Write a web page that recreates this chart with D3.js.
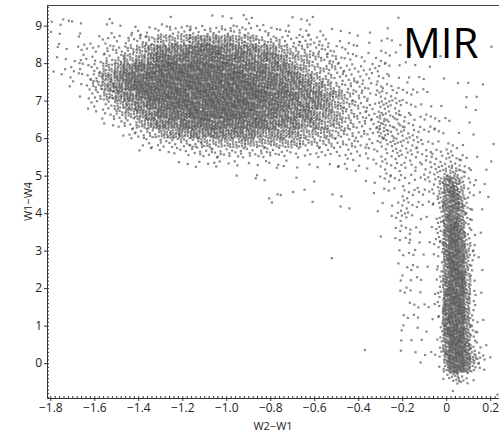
<!DOCTYPE html>
<html>
<head>
<meta charset="utf-8">
<script src="https://cdn.jsdelivr.net/npm/d3@7"></script>
<style>
  body { margin: 0; background: #fff; }
</style>
</head>
<body>
<div id="chart"></div>
<script>
// tick labels
const xTicks = [-1.8, -1.6, -1.4, -1.2, -1.0, -0.8, -0.6, -0.4, -0.2, 0, 0.2];
const yTicks = [0, 1, 2, 3, 4, 5, 6, 7, 8, 9];

// point density: one digit (0-9) per cell, top row first.
// wide part: x from -1.815 by 0.05 (30 cells), y from 9.5 down to 3.5 by 0.25
const blobGrid = { x0: -1.815, dx: 0.05, y0: 9.5, dy: 0.25 };
const blobRows = [
  '000000000000000101000000000000',
  '121102000011000110210012100000',
  '110101112223333333222212111101',
  '111112233455566665544333221111',
  '111223345677788877766544332211',
  '111223456788888888777655433221',
  '112235678899999988887765443322',
  '012246788999999999888776543322',
  '001246789999999999988877654332',
  '001135678999999999998887765432',
  '000123567889999999988877765433',
  '000012456788899999888777665433',
  '000001235677888888887776655432',
  '000000123456677777766665554332',
  '000000011233445555555554443322',
  '000000001112233333333322222222',
  '000000000001111212121211111212',
  '000000000000010101011010101111',
  '000000000000000000110010100011',
  '000000000000000000000011000001',
  '000000000000000000002100111000',
  '000000000000000000000000001100',
  '000000000000000000000000000000',
  '000000000000000000000000000000'
];
// narrow part around the vertical strip: x from -0.315 by 0.025 (22 cells), y from 9.5 down to -1 by 0.25
const stripGrid = { x0: -0.315, dx: 0.025, y0: 9.5, dy: 0.25 };
const stripRows = [
  '0000000000000000000000',
  '0001000000000000000000',
  '0100000000000000000000',
  '1110000000000000000000',
  '1101100000000000000010',
  '1110011000010000000000',
  '2110101001000000000000',
  '2211010110001000000000',
  '2221111010000010100100',
  '3222111101000000101000',
  '3332211111010000100000',
  '4333221111101000010000',
  '4433322111110100100000',
  '4433322211111010010000',
  '3333322221111101000001',
  '2222322222222211001000',
  '1212122222222332100010',
  '1211212122234443210100',
  '1121121112246764210100',
  '0111211211247875211000',
  '0101221111147885310010',
  '1011221110137886310100',
  '0011221011137886310000',
  '0001211101137997310000',
  '1001121100137997411000',
  '0000111101137998420000',
  '0000111010127998521000',
  '0001011101027998520000',
  '0000101100127999520100',
  '0000111010127999520000',
  '0000111100138999621000',
  '0000011010128999620000',
  '0000101101028999620000',
  '0000110100128999621100',
  '0000100101028999631000',
  '0000101010127999731000',
  '0000100101027999742100',
  '0000000110116999853210',
  '0000000000015899742100',
  '0000000000002453210000',
  '0000000000000110100000',
  '0000000000000000000001'
];
// points per cell for each density digit
const blobCount = [0, 1, 3, 5, 8, 13, 19, 26, 33, 40];
const stripCount = [0, 1, 2, 3, 5, 7, 10, 13, 17, 21];
// lone points
const strays = [[-0.52, 2.8], [-0.37, 0.35]];

const width = 499;
const height = 438;
const margin = { top: 5, right: 0, bottom: 40, left: 47 };

const x = d3.scaleLinear()
  .domain([-1.815, 0.24])
  .range([margin.left, width - margin.right]);

const y = d3.scaleLinear()
  .domain([-0.93, 9.55])
  .range([height - margin.bottom, margin.top]);

// spread the points of each cell over it (R2 low discrepancy order)
const A1 = 0.7548776662, A2 = 0.5698402910;
function cellPoints(rows, counts, grid, g) {
  const out = [];
  rows.forEach((row, r) => {
    row.split('').forEach((ch, c) => {
      const n = counts[+ch];
      const s = (r * 37 + c * 61 + g * 13) % 101;
      for (let i = 0; i < n; i++) {
        const u = (0.5 + A1 * (s + i)) % 1;
        const v = (0.5 + A2 * (s + i)) % 1;
        out.push([grid.x0 + (c + u) * grid.dx, grid.y0 - (r + v) * grid.dy]);
      }
    });
  });
  return out;
}

const points = cellPoints(blobRows, blobCount, blobGrid, 0)
  .concat(cellPoints(stripRows, stripCount, stripGrid, 1))
  .concat(strays);

const svg = d3.select('#chart')
  .append('svg')
  .attr('width', width)
  .attr('height', height);

svg.append('clipPath')
  .attr('id', 'plot-clip')
  .append('rect')
  .attr('x', x.range()[0])
  .attr('y', y.range()[1])
  .attr('width', x.range()[1] - x.range()[0])
  .attr('height', y.range()[0] - y.range()[1]);

svg.append('g')
  .attr('clip-path', 'url(#plot-clip)')
  .selectAll('rect')
  .data(points)
  .enter()
  .append('rect')
  .attr('x', d => x(d[0]) - 1.1)
  .attr('y', d => y(d[1]) - 1.1)
  .attr('width', 2.2)
  .attr('height', 2.2)
  .attr('fill', '#555')
  .attr('fill-opacity', 0.7);

const fmtX = d => d === 0 ? '0' : d3.format('.1f')(d);
const fmtY = d3.format('d');
const fontFamily = '"Open Sans", "Liberation Sans", sans-serif';

// bottom axis
const xAxis = svg.append('g')
  .attr('transform', `translate(0,${y.range()[0]})`)
  .attr('color', '#333')
  .call(d3.axisBottom(x).tickValues(xTicks).tickSize(3).tickPadding(2).tickSizeOuter(0).tickFormat(fmtX));
xAxis.selectAll('text')
  .attr('font-size', 12)
  .attr('font-family', fontFamily)
  .attr('fill', '#222');

svg.append('g')
  .attr('transform', `translate(0,${y.range()[0]})`)
  .attr('color', '#333')
  .call(d3.axisTop(x).tickValues(x.ticks(100)).tickSize(2).tickSizeOuter(0).tickFormat(''))
  .select('.domain').remove();

// left axis
const yAxis = svg.append('g')
  .attr('transform', `translate(${x.range()[0]},0)`)
  .attr('color', '#333')
  .call(d3.axisLeft(y).tickValues(yTicks).tickSize(3).tickPadding(2).tickSizeOuter(0).tickFormat(fmtY));
yAxis.selectAll('text')
  .attr('font-size', 12)
  .attr('font-family', fontFamily)
  .attr('fill', '#222');

svg.append('g')
  .attr('transform', `translate(${x.range()[0]},0)`)
  .attr('color', '#333')
  .call(d3.axisRight(y).tickValues(y.ticks(100)).tickSize(2).tickSizeOuter(0).tickFormat(''))
  .select('.domain').remove();

// top frame line
svg.append('line')
  .attr('x1', x.range()[0])
  .attr('x2', x.range()[1])
  .attr('y1', y.range()[1] + 0.5)
  .attr('y2', y.range()[1] + 0.5)
  .attr('stroke', '#444')
  .attr('stroke-width', 1.2);

// axis titles
svg.append('text')
  .attr('x', (x.range()[0] + x.range()[1]) / 2)
  .attr('y', 430)
  .attr('text-anchor', 'middle')
  .attr('font-size', 11)
  .attr('font-family', fontFamily)
  .attr('fill', '#222')
  .text('W2\u2212W1');

svg.append('text')
  .attr('transform', `translate(32,${(y.range()[0] + y.range()[1]) / 2}) rotate(-90)`)
  .attr('text-anchor', 'middle')
  .attr('font-size', 11)
  .attr('font-family', fontFamily)
  .attr('fill', '#222')
  .text('W1\u2212W4');

// panel label
svg.append('text')
  .attr('x', 403)
  .attr('y', 58)
  .attr('font-size', 42)
  .attr('font-family', fontFamily)
  .attr('fill', '#000')
  .text('MIR');
</script>
</body>
</html>
